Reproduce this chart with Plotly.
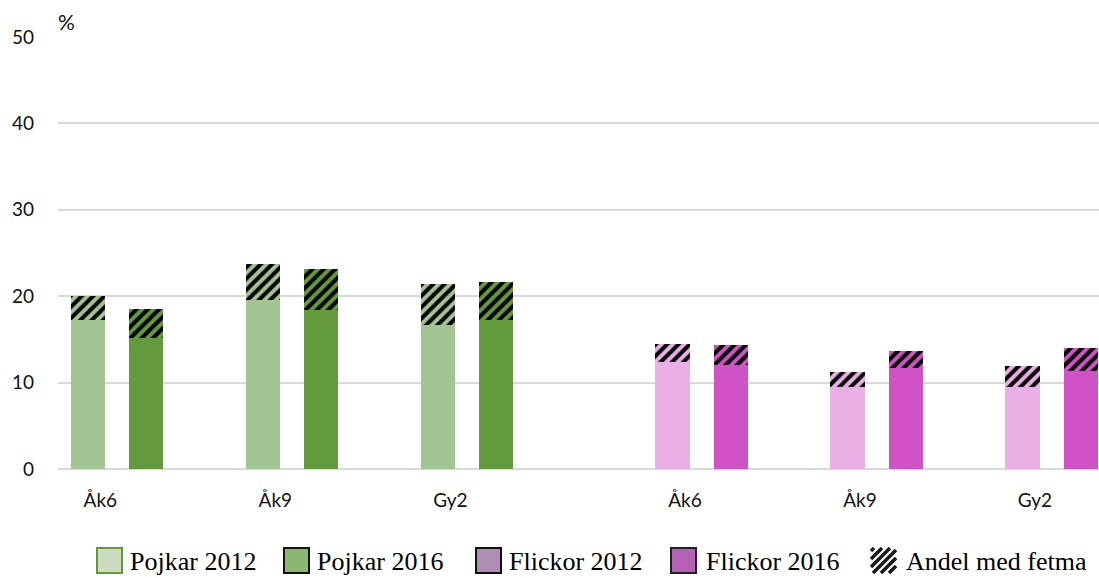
import plotly.graph_objects as go

# ---------------- data ----------------
categories = ["Åk6", "Åk9", "Gy2"]
pojkar_2012_overvikt = [17.2, 19.6, 16.7]
pojkar_2012_fetma = [2.8, 4.1, 4.7]
pojkar_2016_overvikt = [15.2, 18.4, 17.2]
pojkar_2016_fetma = [3.3, 4.7, 4.4]
flickor_2012_overvikt = [12.4, 9.5, 9.5]
flickor_2012_fetma = [2.1, 1.7, 2.4]
flickor_2016_overvikt = [12.0, 11.7, 11.4]
flickor_2016_fetma = [2.35, 2.0, 2.6]
y_ticks = [0, 10, 20, 30, 40, 50]
legend_labels = ["Pojkar 2012", "Pojkar 2016", "Flickor 2012", "Flickor 2016", "Andel med fetma"]

# ---------------- layout constants ----------------
BOYS_POS = [0.0, 1.0, 2.0]
GIRLS_POS = [3.34, 4.34, 5.34]
OFFSET = 0.167
BAR_W = 0.197
LABEL_SHIFT = -0.095

C_P12, C_P16 = "#a3c493", "#639a3e"
C_F12, C_F16 = "#eab0e6", "#d053c5"

W, H = 1099, 578
ML, MR, MT, MB = 58, 0, 37, 109
PW, PH = W - ML - MR, H - MT - MB


def px_x(px):
    return (px - ML) / PW


def px_y(py):
    return (H - MB - py) / PH


fig = go.Figure()


def add_series(positions, shift, base_vals, top_vals, color, name):
    xs = [p + shift for p in positions]
    fig.add_trace(go.Bar(x=xs, y=base_vals, width=BAR_W, name=name,
                         marker=dict(color=color, line=dict(width=0)),
                         showlegend=False))
    fig.add_trace(go.Bar(x=xs, y=top_vals, width=BAR_W, name=name + " – fetma",
                         marker=dict(color=color, line=dict(width=0),
                                     pattern=dict(shape="/", size=8, solidity=0.5,
                                                  fgcolor="#000000", fgopacity=1,
                                                  bgcolor=color, fillmode="replace")),
                         showlegend=False))


add_series(BOYS_POS, -OFFSET, pojkar_2012_overvikt, pojkar_2012_fetma, C_P12, "Pojkar 2012")
add_series(BOYS_POS, OFFSET, pojkar_2016_overvikt, pojkar_2016_fetma, C_P16, "Pojkar 2016")
add_series(GIRLS_POS, -OFFSET, flickor_2012_overvikt, flickor_2012_fetma, C_F12, "Flickor 2012")
add_series(GIRLS_POS, OFFSET, flickor_2016_overvikt, flickor_2016_fetma, C_F16, "Flickor 2016")

tick_font = dict(family="Lato, 'Open Sans', sans-serif", size=19, color="#111111")

fig.update_layout(
    width=W, height=H,
    margin=dict(l=ML, r=MR, t=MT, b=MB, pad=0),
    paper_bgcolor="white", plot_bgcolor="white",
    barmode="stack", bargap=0,
    showlegend=False,
    xaxis=dict(range=[-0.337, 5.611], tickvals=[p + LABEL_SHIFT for p in BOYS_POS + GIRLS_POS],
               ticktext=categories + categories, showgrid=False, zeroline=False,
               showline=False, ticks="", tickfont=tick_font, ticklabelstandoff=18),
    yaxis=dict(range=[0, 50], tickvals=y_ticks, showgrid=True, gridcolor="#d9d9d9",
               gridwidth=1.6, zeroline=True, zerolinecolor="#d9d9d9", zerolinewidth=1.6,
               showline=False, ticks="", tickfont=tick_font, ticklabelstandoff=23),
)

fig.add_annotation(text="%", xref="paper", yref="paper", x=px_x(66), y=px_y(22),
                   showarrow=False, font=dict(family="Lato, sans-serif", size=21, color="#111111"),
                   xanchor="center", yanchor="middle")

# ---------------- legend (drawn below the plot) ----------------
box_left = [97, 284, 476, 671]
box_fill = ["#cddcbf", "#8ab873", "#ae8fb3", "#b562b4"]
box_line = ["#5f9b3c", "#111111", "#111111", "#222222"]
text_left = [129, 316, 508, 705, 905]
BOX = 25
BOX_TOP = 548
LEG_MID = 561
leg_font = dict(family="'Liberation Serif', 'Times New Roman', serif", size=26, color="#000000")

for bl, bf, blc in zip(box_left, box_fill, box_line):
    fig.add_shape(type="rect", xref="paper", yref="paper",
                  x0=px_x(bl), x1=px_x(bl + BOX), y0=px_y(BOX_TOP + BOX), y1=px_y(BOX_TOP),
                  fillcolor=bf, line=dict(color=blc, width=2), layer="above")

# hatched swatch
hx0, hy0 = 871, BOX_TOP
for c in range(hx0 + hy0 + 3, hx0 + hy0 + 2 * BOX, 8):
    xa = max(hx0, c - (hy0 + BOX))
    xb = min(hx0 + BOX, c - hy0)
    if xb - xa < 1:
        continue
    fig.add_shape(type="line", xref="paper", yref="paper",
                  x0=px_x(xa), y0=px_y(c - xa), x1=px_x(xb), y1=px_y(c - xb),
                  line=dict(color="#1a1a1a", width=3.5), layer="above")

for lbl, tl in zip(legend_labels, text_left):
    fig.add_annotation(text=lbl, xref="paper", yref="paper", x=px_x(tl), y=px_y(LEG_MID),
                       xanchor="left", yanchor="middle", showarrow=False, font=leg_font,
                       borderpad=0)

fig.write_html("out.html", config={"displayModeBar": False},
               post_script="document.body.style.margin='0';")
